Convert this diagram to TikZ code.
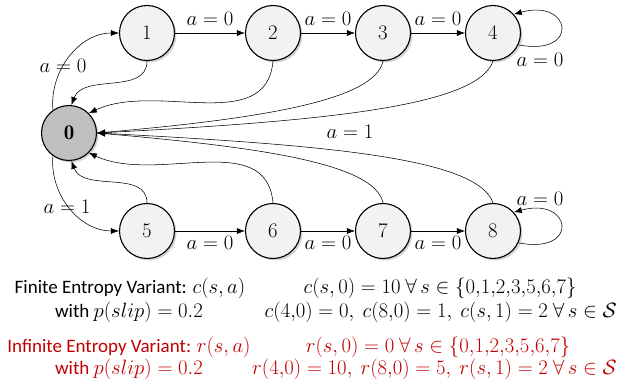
\documentclass[tikz,border=0pt]{standalone}
\usepackage{fontspec}
\setmainfont{Carlito}
\usetikzlibrary{arrows.meta,shadows}
\definecolor{nodefill}{RGB}{242,242,242}
\definecolor{zerofill}{RGB}{191,191,191}
\definecolor{darkred}{RGB}{192,0,0}
\newcommand\mm[1]{{\fontsize{21}{24}\selectfont$#1$}}
\newcommand\cm{{,}}
\begin{document}
\begin{tikzpicture}[x=1pt,y=-1pt,
  state/.style={circle,draw=black,line width=1.1pt,fill=nodefill,minimum size=55pt,inner sep=0pt,
    font=\fontsize{21}{22}\selectfont,drop shadow={shadow xshift=2pt,shadow yshift=-2pt,opacity=0.35}},
  edge/.style={line width=0.55pt,-{Latex[length=8pt,width=6pt]}},
  lab/.style={font=\fontsize{21}{22}\selectfont,inner sep=1pt},
  txt/.style={font=\fontsize{19}{22}\selectfont,inner sep=0pt}]
\useasboundingbox (0,0) rectangle (619,385);
\node[state,fill=zerofill] (n0) at (69,133) {{\fontfamily{lmr}\bfseries 0}};
\node[state] (n1) at (147,33) {$1$};
\node[state] (n2) at (273,33) {$2$};
\node[state] (n3) at (383,33) {$3$};
\node[state] (n4) at (493,33) {$4$};
\node[state] (n5) at (147,231) {$5$};
\node[state] (n6) at (273,231) {$6$};
\node[state] (n7) at (383,231) {$7$};
\node[state] (n8) at (493,231) {$8$};
% top chain
\draw[edge] (n1) -- node[lab,above=6pt] {$a=0$} (n2);
\draw[edge] (n2) -- node[lab,above=6pt] {$a=0$} (n3);
\draw[edge] (n3) -- node[lab,above=6pt] {$a=0$} (n4);
% bottom chain
\draw[edge] (n5) -- node[lab,below=4pt] {$a=0$} (n6);
\draw[edge] (n6) -- node[lab,below=4pt] {$a=0$} (n7);
\draw[edge] (n7) -- node[lab,below=4pt] {$a=0$} (n8);
% from 0
\draw[edge] (n0.125) to[out=95,in=180] (n1.west);
\node[lab] (l01) at (63,66) {$a=0$};
\draw[edge] (n0.-125) to[out=-95,in=180] (n5.west);
\node[lab] (l05) at (67,207) {$a=1$};
% returns to 0
\draw[edge] (n1.south) to[out=-90,in=70] (n0.85);
\draw[edge] (n2.south) to[out=-95,in=25] (n0.45);
\draw[edge] (n3.south) .. controls +(-8,40) and +(160,-14) .. (n0.east);
\draw[edge] (n4.south) .. controls +(-15,45) and +(230,-12) .. (n0.east);
\node[lab] (l40) at (350,132) {$a=1$};
\draw[edge] (n5.north) to[out=90,in=-70] (n0.-85);
\draw[edge] (n6.north) to[out=95,in=-25] (n0.-45);
\draw[edge] (n7.north) .. controls +(-8,-40) and +(160,14) .. (n0.east);
\draw[edge] (n8.north) .. controls +(-15,-45) and +(230,12) .. (n0.east);
% self loops
\draw[edge] (n4.-25) .. controls +(62,12) and +(58,-16) .. (n4.42);
\node[lab] (l44) at (540,60) {$a=0$};
\draw[edge] (n8.-25) .. controls +(62,12) and +(58,-16) .. (n8.42);
\node[lab] (l88) at (540,199) {$a=0$};
% texts
\node[txt] (t1) at (130,288) {Finite Entropy Variant: \mm{c(s,a)}};
\node[txt] (t2) at (129,312) {with \mm{p(slip)=0.2}};
\node[txt] (t3) at (440,288) {\mm{c(s,0)=10\ \forall\, s\in\{0\cm1\cm2\cm3\cm5\cm6\cm7\}}};
\node[txt,anchor=east] (t4) at (617,312) {\mm{c(4\cm0)=0,\ c(8\cm0)=1,\ c(s,1)=2\ \forall\, s\in\mathcal{S}}};
\node[txt,text=darkred] (t5) at (129,347) {Infinite Entropy Variant: \mm{r(s,a)}};
\node[txt,text=darkred] (t6) at (129,369) {with \mm{p(slip)=0.2}};
\node[txt,text=darkred] (t7) at (438,347) {\mm{r(s,0)=0\ \forall\, s\in\{0\cm1\cm2\cm3\cm5\cm6\cm7\}}};
\node[txt,text=darkred,anchor=east] (t8) at (617,369) {\mm{r(4\cm0)=10,\ r(8\cm0)=5,\ r(s,1)=2\ \forall\, s\in\mathcal{S}}};
\end{tikzpicture}
\end{document}
